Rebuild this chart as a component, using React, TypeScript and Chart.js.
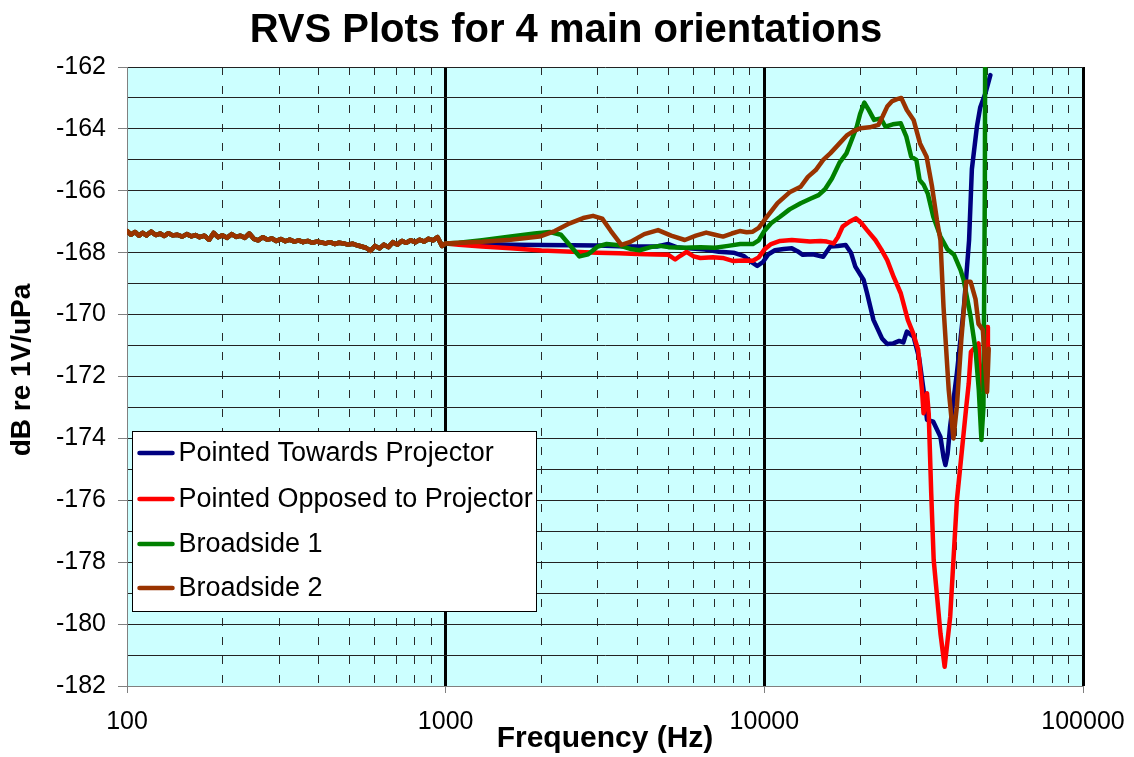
import React, { useEffect, useRef } from "react";
import { Chart, registerables } from "chart.js";

Chart.register(...registerables);

const FONT = '"Liberation Sans", Arial, Helvetica, sans-serif';

const TITLE = "RVS Plots for 4 main orientations";
const X_TITLE = "Frequency (Hz)";
const Y_TITLE = "dB re 1V/uPa";

const SERIES_NAMES = [
  "Pointed Towards Projector",
  "Pointed Opposed to Projector",
  "Broadside 1",
  "Broadside 2",
];
const SERIES_COLORS = ["#000080", "#FF0000", "#008000", "#993300"];

const X_DECADES = [100, 1000, 10000, 100000];
const X_MINOR_MULT = [2, 3, 4, 5, 6, 7, 8, 9];
const Y_MIN = -182;
const Y_MAX = -162;

// shared low-frequency band (all four curves overlap here)
const lowFreq = [
  100, 103, 106, 109, 112, 115, 119, 123, 127, 131, 135, 139, 144, 149, 154, 159, 164, 169, 175, 181,
  187, 193, 199, 206, 213, 220, 227, 234, 242, 250, 258, 267, 276, 285, 294, 304, 314, 324, 335, 346,
  357, 369, 381, 394, 407, 420, 434, 448, 463, 478, 494, 510, 527, 544, 562, 581, 600, 620, 640, 661,
  683, 705, 728, 752, 777, 803, 829, 856, 884, 913, 943, 974, 1000,
];
const lowDb = [
  -167.3, -167.42, -167.33, -167.45, -167.36, -167.44, -167.32, -167.43, -167.38, -167.46, -167.37, -167.44,
  -167.42, -167.48, -167.4, -167.47, -167.43, -167.5, -167.45, -167.58, -167.36, -167.5, -167.44, -167.52,
  -167.4, -167.49, -167.45, -167.52, -167.38, -167.55, -167.6, -167.5, -167.58, -167.54, -167.62, -167.56,
  -167.63, -167.58, -167.64, -167.6, -167.66, -167.62, -167.68, -167.64, -167.67, -167.7, -167.66, -167.72,
  -167.68, -167.7, -167.74, -167.71, -167.76, -167.8, -167.84, -167.94, -167.78, -167.86, -167.74, -167.82,
  -167.66, -167.74, -167.62, -167.68, -167.6, -167.66, -167.58, -167.64, -167.55, -167.6, -167.5, -167.78,
  -167.7,
];

const towardsFreq = [
  1100, 1300, 1600, 2000, 2500, 3000, 3500, 4000, 4600, 5000, 5300, 5800, 6500, 7200, 8000, 8600, 9100,
  9500, 9900, 10300, 10800, 11500, 12200, 12700, 13200, 14200, 15300, 16100, 17000, 18000, 18700, 19300,
  20500, 21000, 22000, 23400, 24300, 25400, 26500, 27300, 28000, 29400, 30600, 31600, 32400, 33900, 35700,
  36500, 37000, 37600, 38300, 40200, 42300, 43900, 44800, 46500, 47600, 49400, 51200,
];
const towardsDb = [
  -167.71, -167.72, -167.74, -167.75, -167.76, -167.77, -167.79, -167.8, -167.8, -167.72, -167.82, -167.86,
  -167.9, -167.97, -168.0, -168.1, -168.3, -168.43, -168.3, -168.05, -167.92, -167.88, -167.86, -167.95,
  -168.07, -168.05, -168.13, -167.8, -167.78, -167.75, -168.0, -168.45, -168.88, -169.3, -170.17, -170.77,
  -170.95, -170.93, -170.85, -170.9, -170.55, -170.71, -171.4, -172.44, -173.4, -173.46, -173.95, -174.6,
  -174.86, -174.5, -173.6, -171.9, -169.75, -167.6, -165.3, -163.9, -163.3, -162.85, -162.26,
];

const opposedFreq = [
  1100, 1300, 1600, 2000, 2500, 3000, 3500, 4000, 4600, 5000, 5250, 5450, 5700, 6000, 6300, 6900, 7400,
  8000, 8600, 9200, 9600, 10000, 10500, 11200, 12200, 13900, 15000, 15700, 16500, 17000, 17600, 18500,
  19400, 20200, 21000, 22300, 23300, 24300, 25500, 26800, 28200, 29300, 30400, 31250, 31600, 32400, 32800,
  33400, 34000, 35700, 36800, 38300, 40200, 42200, 43000, 43800, 44500, 45500, 47000, 47600, 48200, 49000,
  50000, 50300,
];
const opposedDb = [
  -167.74, -167.8, -167.86, -167.93, -167.97, -168.0, -168.02, -168.04, -168.06, -168.07, -168.22, -168.1,
  -167.97, -168.12, -168.17, -168.15, -168.17, -168.27, -168.25, -168.26, -168.15, -167.9, -167.72, -167.62,
  -167.59, -167.64, -167.62, -167.64, -167.7, -167.5, -167.16, -167.0, -166.89, -167.05, -167.27, -167.59,
  -167.9, -168.24, -168.8, -169.31, -170.17, -170.6, -171.14, -172.44, -173.19, -172.54, -173.2, -175.78,
  -177.93, -180.3, -181.38, -179.76, -176.0, -173.84, -173.0, -172.22, -171.2, -171.1, -170.93, -172.2,
  -172.44, -171.5, -170.4, -171.2,
];

const broadside1Freq = [
  1100, 1300, 1600, 1900, 2120, 2300, 2450, 2630, 2800, 3000, 3200, 3500, 3800, 4060, 4400, 4700, 5000,
  5600, 6300, 7000, 7700, 8400, 9200, 9600, 10000, 10500, 11200, 12000, 13000, 14000, 14800, 15500, 16300,
  17200, 18100, 19500, 20000, 20600, 21300, 22100, 23200, 24000, 25300, 26800, 27900, 28900, 30000, 30700,
  31600, 32600, 33900, 35700, 37600, 39400, 41300, 42200, 44400, 46000, 47100, 48000, 48700, 49200, 49400,
];
const broadside1Db = [
  -167.68, -167.6, -167.48, -167.38, -167.33, -167.42, -167.75, -168.12, -168.05, -167.8, -167.72, -167.76,
  -167.88, -167.92, -167.82, -167.78, -167.82, -167.84, -167.82, -167.84, -167.78, -167.72, -167.72, -167.6,
  -167.3, -167.05, -166.84, -166.6, -166.4, -166.25, -166.14, -165.95, -165.6, -165.1, -164.79, -163.93,
  -163.5, -163.15, -163.4, -163.71, -163.66, -163.93, -163.85, -163.82, -164.25, -164.9, -165.0, -165.65,
  -165.8, -166.1, -166.84, -167.48, -167.9, -168.07, -168.56, -168.88, -170.07, -171.14, -172.44, -174.05,
  -173.0, -166.0, -158.0,
];

const broadside2Freq = [
  1100, 1300, 1600, 1970, 2200, 2450, 2700, 2900, 3100, 3300, 3560, 3800, 4200, 4640, 5100, 5630, 6100,
  6570, 7000, 7420, 7900, 8370, 8800, 9200, 9600, 10000, 11000, 12000, 13000, 13700, 14500, 15300, 16100,
  17100, 18200, 19000, 20000, 21400, 22800, 23500, 24300, 25200, 26100, 26900, 28000, 29400, 30800, 32300,
  33600, 34800, 35700, 36500, 37900, 39200, 40200, 41500, 43000, 44400, 46000, 47000, 48500, 50000, 50600,
];
const broadside2Db = [
  -167.68, -167.65, -167.58, -167.48, -167.3, -167.05, -166.88, -166.81, -166.9, -167.3, -167.75, -167.65,
  -167.4, -167.27, -167.45, -167.59, -167.45, -167.35, -167.42, -167.48, -167.38, -167.3, -167.34, -167.32,
  -167.2, -166.95, -166.4, -166.05, -165.87, -165.55, -165.33, -165.0, -164.79, -164.5, -164.2, -164.08,
  -163.98, -163.95, -163.87, -163.6, -163.28, -163.1, -163.04, -163.0, -163.39, -163.71, -164.47, -164.9,
  -165.87, -166.94, -167.6, -169.75, -172.44, -174.0, -172.97, -170.82, -168.94, -168.94, -169.5, -170.3,
  -170.5, -172.5, -171.1,
];

const X_TICKS: number[] = [];
X_DECADES.forEach((d, i) => {
  X_TICKS.push(d);
  if (i < X_DECADES.length - 1) X_MINOR_MULT.forEach((m) => X_TICKS.push(d * m));
});

const isDecade = (v: any) => X_DECADES.includes(v);

function toPoints(freq: number[], db: number[]) {
  return freq.map((f, i) => ({ x: f, y: db[i] }));
}

const seriesData = [
  toPoints([...lowFreq, ...towardsFreq], [...lowDb, ...towardsDb]),
  toPoints([...lowFreq, ...opposedFreq], [...lowDb, ...opposedDb]),
  toPoints([...lowFreq, ...broadside1Freq], [...lowDb, ...broadside1Db]),
  toPoints([...lowFreq, ...broadside2Freq], [...lowDb, ...broadside2Db]),
];

const backgroundPlugin = {
  id: "plotBackground",
  beforeDraw(chart: any) {
    const { ctx, chartArea } = chart;
    ctx.save();
    ctx.fillStyle = "#CCFFFF";
    ctx.fillRect(chartArea.left, chartArea.top, chartArea.right - chartArea.left, chartArea.bottom - chartArea.top);
    ctx.restore();
  },
};

const textPlugin = {
  id: "textAndLegend",
  afterDraw(chart: any) {
    const ctx = chart.ctx;
    const area = chart.chartArea;
    ctx.save();
    ctx.fillStyle = "#000";
    ctx.textAlign = "center";
    ctx.textBaseline = "alphabetic";
    ctx.font = `bold 40px ${FONT}`;
    ctx.fillText(TITLE, 566, 42);
    ctx.font = `bold 30px ${FONT}`;
    ctx.fillText(X_TITLE, (area.left + area.right) / 2, 747);
    ctx.restore();

    ctx.save();
    ctx.translate(22, 370);
    ctx.rotate(-Math.PI / 2);
    ctx.fillStyle = "#000";
    ctx.textAlign = "center";
    ctx.textBaseline = "middle";
    ctx.font = `bold 28px ${FONT}`;
    ctx.fillText(Y_TITLE, 0, 0);
    ctx.restore();

    // legend box
    const lx = area.left + 5.5;
    const ly = 431.5;
    const lw = 404;
    const lh = 180;
    ctx.save();
    ctx.fillStyle = "#FFFFFF";
    ctx.fillRect(lx, ly, lw, lh);
    ctx.strokeStyle = "#000";
    ctx.lineWidth = 1;
    ctx.strokeRect(lx, ly, lw, lh);
    const rows = [453, 499, 544, 588];
    ctx.font = `27px ${FONT}`;
    ctx.textAlign = "left";
    ctx.textBaseline = "middle";
    SERIES_NAMES.forEach((name, i) => {
      ctx.strokeStyle = SERIES_COLORS[i];
      ctx.lineWidth = 4.5;
      ctx.lineCap = "round";
      ctx.beginPath();
      ctx.moveTo(lx + 7, rows[i]);
      ctx.lineTo(lx + 40, rows[i]);
      ctx.stroke();
      ctx.fillStyle = "#000";
      ctx.fillText(name, lx + 46, rows[i] + 1);
    });
    ctx.restore();
  },
};

export default function App() {
  const canvasRef = useRef<HTMLCanvasElement | null>(null);

  useEffect(() => {
    if (!canvasRef.current) return;
    Chart.defaults.font.family = FONT;
    Chart.defaults.color = "#000";
    const chart = new Chart(canvasRef.current, {
      type: "line",
      data: {
        datasets: SERIES_NAMES.map((name, i) => ({
          label: name,
          data: seriesData[i],
          borderColor: SERIES_COLORS[i],
          backgroundColor: SERIES_COLORS[i],
          borderWidth: 4.5,
          pointRadius: 0,
          tension: 0,
          fill: false,
          borderJoinStyle: "round" as const,
          borderCapStyle: "round" as const,
          order: 4 - i,
        })),
      },
      options: {
        responsive: false,
        devicePixelRatio: 1,
        animation: false,
        events: [],
        layout: { padding: { top: 67, right: 51, left: 0, bottom: 0 } },
        plugins: {
          legend: { display: false },
          tooltip: { enabled: false },
          title: { display: false },
        },
        scales: {
          x: {
            type: "logarithmic",
            min: 100,
            max: 100000,
            afterBuildTicks: (scale: any) => {
              scale.ticks = X_TICKS.map((v) => ({ value: v }));
            },
            afterFit: (scale: any) => {
              scale.height = 71;
              scale.paddingLeft = 0;
              scale.paddingRight = 0;
            },
            ticks: {
              autoSkip: false,
              maxRotation: 0,
              minRotation: 0,
              padding: 14,
              font: { size: 25 },
              color: "#000",
              callback: (v: any) => (isDecade(Number(v)) ? String(v) : ""),
            },
            grid: {
              color: (c: any) => {
                const v = c.tick ? c.tick.value : null;
                if (v === 100) return "#808080";
                return isDecade(v) ? "#000000" : "#2a2a2a";
              },
              lineWidth: (c: any) => {
                const v = c.tick ? c.tick.value : null;
                return isDecade(v) && v !== 100 ? 3 : 1;
              },
              tickLength: 7,
              tickWidth: 1,
              tickColor: (c: any) => (c.tick && isDecade(c.tick.value) ? "#808080" : "rgba(0,0,0,0)"),
            },
            border: {
              color: "#808080",
              width: 1,
              dash: (c: any) => (c.tick && !isDecade(c.tick.value) ? [8, 11] : []),
            },
          },
          y: {
            type: "linear",
            min: Y_MIN,
            max: Y_MAX,
            afterFit: (scale: any) => {
              scale.width = 127;
              scale.paddingTop = 0;
              scale.paddingBottom = 0;
            },
            ticks: {
              stepSize: 1,
              autoSkip: false,
              padding: 12,
              font: { size: 25 },
              color: "#000",
              callback: (v: any) => (Number(v) % 2 === 0 ? String(v) : ""),
            },
            grid: {
              color: (c: any) => (c.tick && c.tick.value === Y_MIN ? "#808080" : "#222222"),
              lineWidth: 1,
              tickLength: 9,
              tickWidth: 1,
              tickColor: (c: any) => (c.tick && c.tick.value % 2 === 0 ? "#808080" : "rgba(0,0,0,0)"),
            },
            border: { color: "#808080", width: 1 },
          },
        },
      },
      plugins: [backgroundPlugin, textPlugin],
    } as any);
    return () => chart.destroy();
  }, []);

  return (
    <div style={{ position: "absolute", left: 0, top: 0, width: 1134, height: 757 }}>
      <canvas ref={canvasRef} width={1134} height={757} style={{ width: 1134, height: 757, display: "block" }} />
    </div>
  );
}
